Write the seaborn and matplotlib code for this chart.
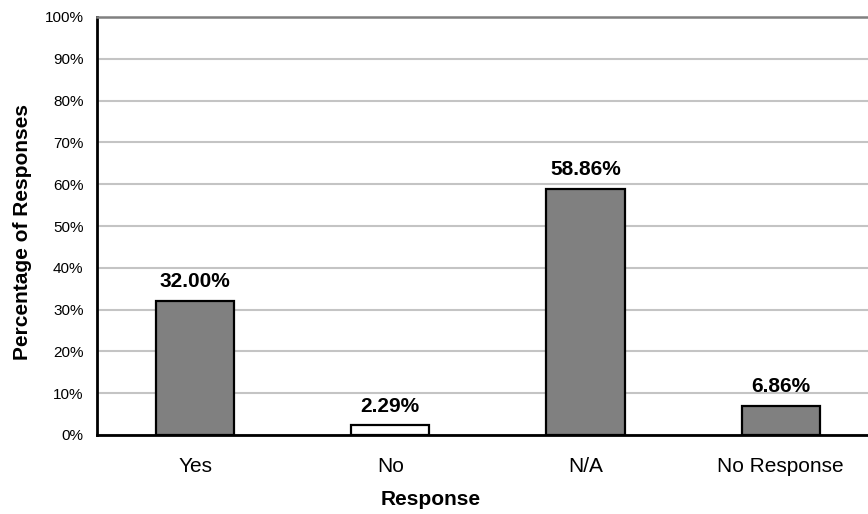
import matplotlib
matplotlib.use("Agg")
import matplotlib.pyplot as plt
import seaborn as sns
import pandas as pd
from matplotlib.ticker import MultipleLocator, FuncFormatter

categories = ["Yes", "No", "N/A", "No Response"]
values = [32.00, 2.29, 58.86, 6.86]
bar_colors = ["#808080", "#ffffff", "#808080", "#808080"]
x_title = "Response"
y_title = "Percentage of Responses"

sns.set_theme(style="white")
plt.rcParams["font.family"] = ["Liberation Sans", "DejaVu Sans"]

df = pd.DataFrame({"cat": categories, "val": values})

fig = plt.figure(figsize=(8.68, 5.14), dpi=100)
ax = fig.add_axes([97.4 / 868, 79 / 514, 781 / 868, 418 / 514])

sns.barplot(data=df, x="cat", y="val", hue="cat", palette=bar_colors,
            edgecolor="black", linewidth=1.6, width=0.4, legend=False,
            saturation=1, ax=ax)

ax.set_xlim(-0.5, 3.5)
ax.set_ylim(0, 100)
ax.yaxis.set_major_locator(MultipleLocator(10))
ax.yaxis.set_major_formatter(FuncFormatter(lambda v, p: f"{v:.0f}%"))
ax.set_axisbelow(True)
ax.yaxis.grid(True, color="#c4c4c4", linewidth=1.5)
ax.xaxis.grid(False)

ax.spines["right"].set_visible(False)
ax.spines["top"].set_color("#808080")
ax.spines["top"].set_linewidth(1.8)
ax.spines["left"].set_color("black")
ax.spines["left"].set_linewidth(2)
ax.spines["bottom"].set_color("black")
ax.spines["bottom"].set_linewidth(2)

ax.tick_params(axis="y", labelsize=11, length=0, pad=10, colors="black")
ax.tick_params(axis="x", labelsize=15, length=0, pad=16, colors="black")

for i, v in enumerate(values):
    ax.annotate(f"{v:.2f}%", xy=(i, v), xytext=(0, 10), textcoords="offset points",
                ha="center", va="baseline", fontsize=15, fontweight="bold", color="black")

ax.set_xlabel(x_title, fontsize=15, fontweight="bold", color="black")
ax.set_ylabel(y_title, fontsize=15, fontweight="bold", color="black")
ax.xaxis.set_label_coords(0.427, -0.132)
ax.yaxis.set_label_coords(-0.0837, 0.486)

fig.savefig("out.png", dpi=100)
